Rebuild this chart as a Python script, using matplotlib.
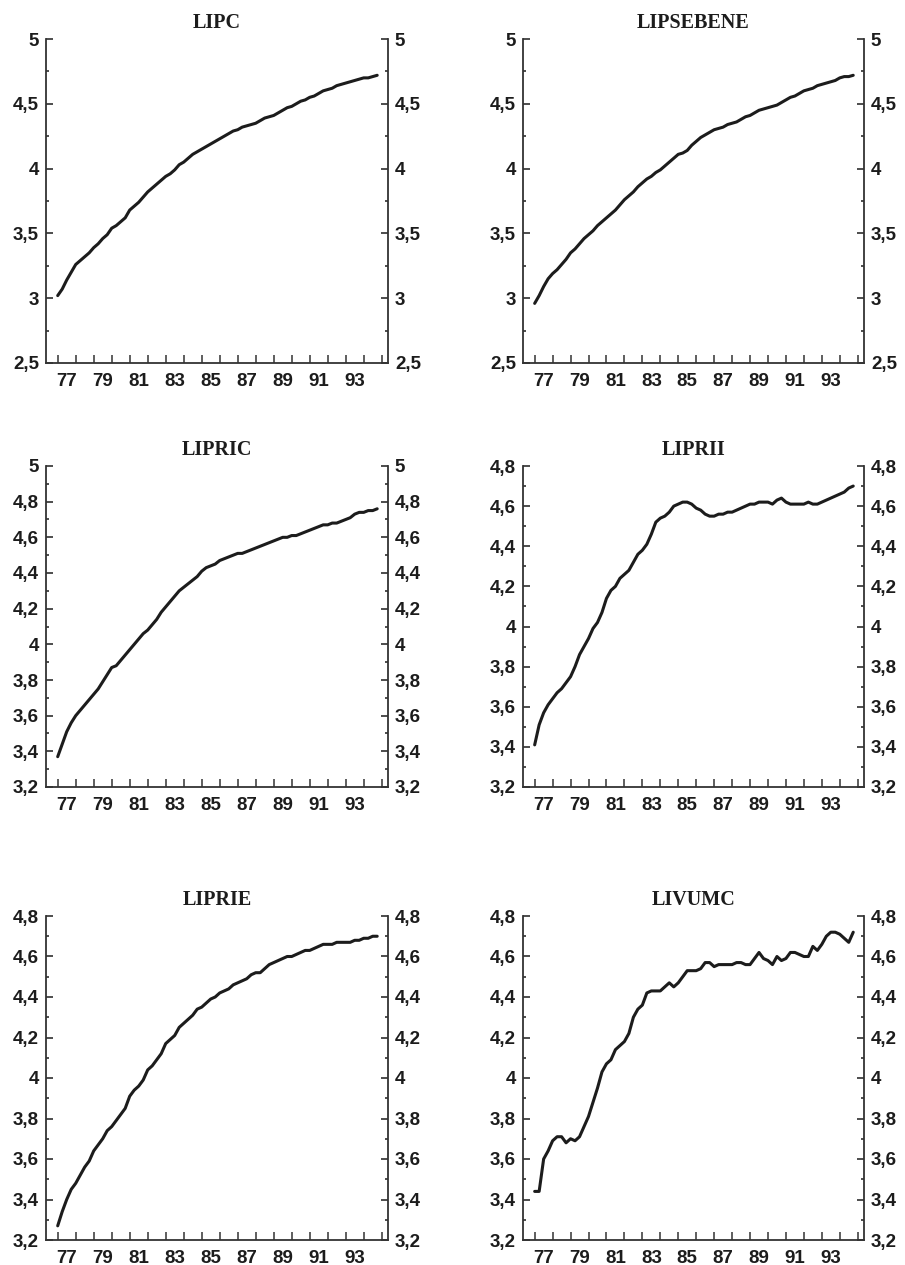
import matplotlib.pyplot as plt
from matplotlib.ticker import FuncFormatter, MultipleLocator

plt.rcParams["font.family"] = "Liberation Sans"
plt.rcParams["font.weight"] = "bold"

# quarterly data, 1977Q1 .. 1994Q4
years = list(range(1977, 1995))
quarters = [y + q / 4 for y in years for q in range(4)]

lipc = [
    3.02, 3.07, 3.14, 3.20, 3.26, 3.29, 3.32, 3.35, 3.39, 3.42, 3.46, 3.49,
    3.54, 3.56, 3.59, 3.62, 3.68, 3.71, 3.74, 3.78, 3.82, 3.85, 3.88, 3.91,
    3.94, 3.96, 3.99, 4.03, 4.05, 4.08, 4.11, 4.13, 4.15, 4.17, 4.19, 4.21,
    4.23, 4.25, 4.27, 4.29, 4.30, 4.32, 4.33, 4.34, 4.35, 4.37, 4.39, 4.40,
    4.41, 4.43, 4.45, 4.47, 4.48, 4.50, 4.52, 4.53, 4.55, 4.56, 4.58, 4.60,
    4.61, 4.62, 4.64, 4.65, 4.66, 4.67, 4.68, 4.69, 4.70, 4.70, 4.71, 4.72,
]
lipsebene = [
    2.96, 3.02, 3.09, 3.15, 3.19, 3.22, 3.26, 3.30, 3.35, 3.38, 3.42, 3.46,
    3.49, 3.52, 3.56, 3.59, 3.62, 3.65, 3.68, 3.72, 3.76, 3.79, 3.82, 3.86,
    3.89, 3.92, 3.94, 3.97, 3.99, 4.02, 4.05, 4.08, 4.11, 4.12, 4.14, 4.18,
    4.21, 4.24, 4.26, 4.28, 4.30, 4.31, 4.32, 4.34, 4.35, 4.36, 4.38, 4.40,
    4.41, 4.43, 4.45, 4.46, 4.47, 4.48, 4.49, 4.51, 4.53, 4.55, 4.56, 4.58,
    4.60, 4.61, 4.62, 4.64, 4.65, 4.66, 4.67, 4.68, 4.70, 4.71, 4.71, 4.72,
]
lipric = [
    3.37, 3.44, 3.51, 3.56, 3.60, 3.63, 3.66, 3.69, 3.72, 3.75, 3.79, 3.83,
    3.87, 3.88, 3.91, 3.94, 3.97, 4.00, 4.03, 4.06, 4.08, 4.11, 4.14, 4.18,
    4.21, 4.24, 4.27, 4.30, 4.32, 4.34, 4.36, 4.38, 4.41, 4.43, 4.44, 4.45,
    4.47, 4.48, 4.49, 4.50, 4.51, 4.51, 4.52, 4.53, 4.54, 4.55, 4.56, 4.57,
    4.58, 4.59, 4.60, 4.60, 4.61, 4.61, 4.62, 4.63, 4.64, 4.65, 4.66, 4.67,
    4.67, 4.68, 4.68, 4.69, 4.70, 4.71, 4.73, 4.74, 4.74, 4.75, 4.75, 4.76,
]
liprii = [
    3.41, 3.51, 3.57, 3.61, 3.64, 3.67, 3.69, 3.72, 3.75, 3.80, 3.86, 3.90,
    3.94, 3.99, 4.02, 4.07, 4.14, 4.18, 4.20, 4.24, 4.26, 4.28, 4.32, 4.36,
    4.38, 4.41, 4.46, 4.52, 4.54, 4.55, 4.57, 4.60, 4.61, 4.62, 4.62, 4.61,
    4.59, 4.58, 4.56, 4.55, 4.55, 4.56, 4.56, 4.57, 4.57, 4.58, 4.59, 4.60,
    4.61, 4.61, 4.62, 4.62, 4.62, 4.61, 4.63, 4.64, 4.62, 4.61, 4.61, 4.61,
    4.61, 4.62, 4.61, 4.61, 4.62, 4.63, 4.64, 4.65, 4.66, 4.67, 4.69, 4.70,
]
liprie = [
    3.27, 3.34, 3.40, 3.45, 3.48, 3.52, 3.56, 3.59, 3.64, 3.67, 3.70, 3.74,
    3.76, 3.79, 3.82, 3.85, 3.91, 3.94, 3.96, 3.99, 4.04, 4.06, 4.09, 4.12,
    4.17, 4.19, 4.21, 4.25, 4.27, 4.29, 4.31, 4.34, 4.35, 4.37, 4.39, 4.40,
    4.42, 4.43, 4.44, 4.46, 4.47, 4.48, 4.49, 4.51, 4.52, 4.52, 4.54, 4.56,
    4.57, 4.58, 4.59, 4.60, 4.60, 4.61, 4.62, 4.63, 4.63, 4.64, 4.65, 4.66,
    4.66, 4.66, 4.67, 4.67, 4.67, 4.67, 4.68, 4.68, 4.69, 4.69, 4.70, 4.70,
]
livumc = [
    3.44, 3.44, 3.60, 3.64, 3.69, 3.71, 3.71, 3.68, 3.70, 3.69, 3.71, 3.76,
    3.81, 3.88, 3.95, 4.03, 4.07, 4.09, 4.14, 4.16, 4.18, 4.22, 4.30, 4.34,
    4.36, 4.42, 4.43, 4.43, 4.43, 4.45, 4.47, 4.45, 4.47, 4.50, 4.53, 4.53,
    4.53, 4.54, 4.57, 4.57, 4.55, 4.56, 4.56, 4.56, 4.56, 4.57, 4.57, 4.56,
    4.56, 4.59, 4.62, 4.59, 4.58, 4.56, 4.60, 4.58, 4.59, 4.62, 4.62, 4.61,
    4.60, 4.60, 4.65, 4.63, 4.66, 4.70, 4.72, 4.72, 4.71, 4.69, 4.67, 4.72,
]

titles = ["LIPC", "LIPSEBENE", "LIPRIC", "LIPRII", "LIPRIE", "LIVUMC"]
series = [lipc, lipsebene, lipric, liprii, liprie, livumc]
ylims = [(2.5, 5), (2.5, 5), (3.2, 5), (3.2, 4.8), (3.2, 4.8), (3.2, 4.8)]
ysteps = [0.5, 0.5, 0.2, 0.2, 0.2, 0.2]
xlabel_years = list(range(1977, 1995, 2))

W, H = 905, 1265
cols = [(46, 342), (523, 341)]
rows = [(39, 324), (466, 321), (916, 324)]
ink = "#1c1c1c"


def comma(v, _):
    return f"{round(v, 2):g}".replace(".", ",")


fig = plt.figure(figsize=(W / 100, H / 100), dpi=100)

for i, (title, values) in enumerate(zip(titles, series)):
    left, width = cols[i % 2]
    top, height = rows[i // 2]
    ax = fig.add_axes([left / W, 1 - (top + height) / H, width / W, height / H])
    ax.plot(quarters, values, color=ink, lw=2.2, solid_capstyle="round")

    ax.set_xlim(1976.35, 1995.35)
    ax.set_ylim(*ylims[i])
    ax.yaxis.set_major_locator(MultipleLocator(ysteps[i]))
    ax.yaxis.set_minor_locator(MultipleLocator(ysteps[i] / 2))
    ax.yaxis.set_major_formatter(FuncFormatter(comma))

    ax.set_xticks([y + 0.5 for y in xlabel_years], [str(y)[2:] for y in xlabel_years])
    ax.set_xticks(years + [1995], minor=True)
    ax.tick_params(axis="x", which="major", length=0, pad=7.5, labelsize=13.5, colors=ink)
    ax.tick_params(axis="x", which="minor", direction="in", length=6, width=1.1, color="#333")
    ax.tick_params(axis="y", which="both", direction="in", left=True, right=True,
                   labelleft=True, labelright=True, labelsize=13.5, colors=ink, width=1.1)
    ax.tick_params(axis="y", which="major", length=5, pad=5)
    ax.tick_params(axis="y", which="minor", length=2.5)

    ax.spines["top"].set_visible(False)
    for side in ["left", "right", "bottom"]:
        ax.spines[side].set_linewidth(1.3)
        ax.spines[side].set_color("#333")

    ax.set_title(title, family="Liberation Serif", fontweight="bold", fontsize=14.5,
                 color=ink, pad=8)

fig.savefig("out.png", dpi=100)
